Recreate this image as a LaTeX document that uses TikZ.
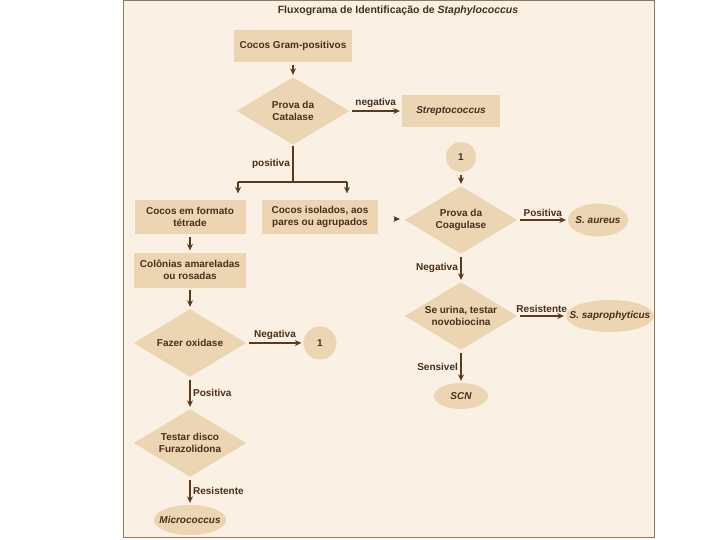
\documentclass[tikz,border=0pt]{standalone}
\usepackage{fontspec}
\setmainfont{Liberation Sans}
\usetikzlibrary{shapes.geometric, arrows.meta}
\definecolor{fundo}{HTML}{FAF0E3}
\definecolor{bege}{HTML}{EBD5B3}
\definecolor{texto}{HTML}{4A2E1A}
\definecolor{linha}{HTML}{5B3A22}
\definecolor{moldura}{HTML}{8F7B5C}
\begin{document}
\begin{tikzpicture}[x=1pt, y=-1pt, >={Stealth[length=6.5pt, width=6pt]}, line width=1.3pt,
	every node/.style={font=\fontsize{10}{12}\selectfont\bfseries, text=texto, align=center},
	caixa/.style={rectangle, fill=bege, inner sep=0pt},
	decisao/.style={diamond, aspect=1.66, fill=bege, inner sep=0pt, minimum width=113pt, minimum height=68pt},
	terminal/.style={ellipse, fill=bege, inner sep=0pt},
	circulo/.style={circle, fill=bege, inner sep=0pt},
	seta/.style={->, draw=linha, shorten <=2pt, shorten >=1.5pt},
	traco/.style={draw=linha},
	rotulo/.style={inner sep=2.5pt}]
				\useasboundingbox (0,0) rectangle (720,540);
				% 1. moldura e titulo
				\draw[draw=moldura, line width=1pt, fill=fundo] (123,1) rectangle (654,537);
				\node[font=\fontsize{10.5}{12}\selectfont\bfseries] (titulo) at (398,11) {Fluxograma de Identificação de \textit{Staphylococcus}};
				
				% 2. coluna esquerda
				\node[caixa, minimum width=118pt, minimum height=32pt] (gram) at (293,46) {Cocos Gram-positivos};
				\node[decisao] (catalase) at (293,111) {Prova da\\Catalase};
				\node[caixa, minimum width=98pt, minimum height=32pt] (strepto) at (451,111) {\textit{Streptococcus}};
				\coordinate (divide) at (293,182);
				\coordinate (esq) at (238,182);
				\coordinate (dir) at (347,182);
				\node[caixa, minimum width=111pt, minimum height=34pt] (tetrade) at (190,217) {Cocos em formato\\tétrade};
				\node[caixa, minimum width=116pt, minimum height=34pt] (isolados) at (320,217) {Cocos isolados, aos\\pares ou agrupados};
				\node[caixa, minimum width=112pt, minimum height=35pt] (colonias) at (190,270) {Colônias amareladas\\ou rosadas};
				\node[decisao] (oxidase) at (190,343) {Fazer oxidase};
				\node[circulo, minimum size=33pt] (um1) at (320,343) {1};
				\node[decisao] (furazol) at (190,443) {Testar disco\\Furazolidona};
				\node[terminal, minimum width=72pt, minimum height=30pt] (micro) at (190,520) {\makebox[0pt]{\textit{Micrococcus}}};
				
				% 3. coluna direita
				\node[circulo, minimum size=30pt] (um2) at (461,157) {1};
				\node[decisao] (coagulase) at (461,220) {Prova da\\Coagulase};
				\node[terminal, minimum width=60pt, minimum height=33pt] (aureus) at (598,220) {\makebox[0pt]{\textit{S. aureus}}};
				\node[decisao] (urina) at (461,316) {Se urina, testar\\novobiocina};
				\node[terminal, minimum width=88pt, minimum height=32pt] (sapro) at (610,316) {\makebox[0pt]{\textit{S. saprophyticus}}};
				\node[terminal, minimum width=54pt, minimum height=26pt] (scn) at (461,396) {\makebox[0pt]{\textit{SCN}}};
				\coordinate (ponta) at (394,219);
				
				% 4. setas
				\draw[seta] (gram) -- (catalase);
				\draw[seta] (catalase) -- node[rotulo, above] {negativa} (strepto);
				\draw[traco] (catalase) -- node[rotulo, left] {positiva} (divide);
				\draw[traco] (esq) -- (dir);
				\draw[seta, shorten <=0pt, shorten >=6pt] (esq) -- (esq |- tetrade.north);
				\draw[seta, shorten <=0pt, shorten >=6pt] (dir) -- (dir |- isolados.north);
				\draw[seta, shorten <=0pt, shorten >=4pt] (ponta) -- (ponta -| coagulase.west);
				\draw[seta] (tetrade) -- (colonias);
				\draw[seta] (colonias) -- (oxidase);
				\draw[seta] (oxidase) -- node[rotulo, above] {Negativa} (um1);
				\draw[seta] (oxidase) -- node[rotulo, right] {Positiva} (furazol);
				\draw[seta] (furazol) -- node[rotulo, right] {Resistente} (micro);
				\draw[seta] (um2) -- (coagulase);
				\draw[seta] (coagulase) -- node[rotulo, above] {Positiva} (aureus);
				\draw[seta] (coagulase) -- node[rotulo, left] {Negativa} (urina);
				\draw[seta] (urina) -- node[rotulo, above] {Resistente} (sapro);
				\draw[seta] (urina) -- node[rotulo, left] {Sensivel} (scn);
			\end{tikzpicture}
\end{document}
